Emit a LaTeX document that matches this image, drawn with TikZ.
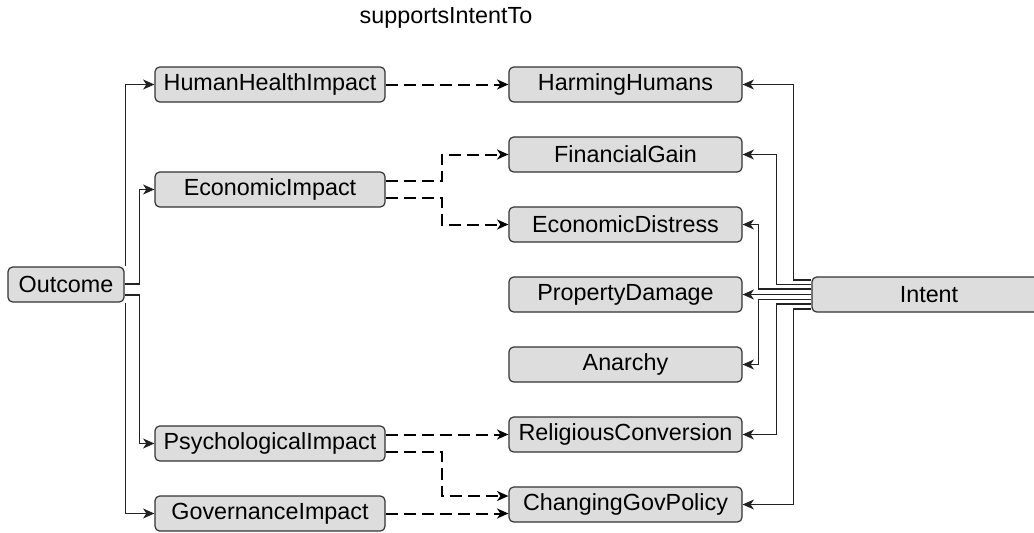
\documentclass[tikz,border=0pt]{standalone}
\usepackage{fontspec}
\setmainfont{Liberation Sans}
\usetikzlibrary{arrows.meta,calc}
\definecolor{boxfill}{HTML}{DDDDDD}
\definecolor{boxline}{HTML}{333333}
\definecolor{lineclr}{HTML}{222222}
\begin{document}
\begin{tikzpicture}[x=0.75pt,y=-0.75pt,
  box/.style={draw=boxline, fill=boxfill, rounded corners=3.5pt, line width=0.9pt,
    minimum height=26.25pt, inner sep=0pt, font=\fontsize{17.5}{20}\selectfont, text=black},
  lbox/.style={box, minimum width=172.5pt},
  rbox/.style={box, minimum width=174.75pt},
  tip/.style={-{Stealth[length=8.5pt,width=7.5pt,inset=2.5pt]}},
  conn/.style={tip, draw=lineclr, line width=0.8pt},
  dconn/.style={tip, draw=black, line width=1.5pt, dash pattern=on 9pt off 4.5pt}]
\clip (0,0) rectangle (1034,532);
\fill[white] (0,0) rectangle (1034,532);

\node[font=\fontsize{17.5}{20}\selectfont] (title) at (446,18) {supportsIntentTo};

\node[box, minimum width=87pt] (Outcome) at (66,284.5) {Outcome};

\node[lbox] (HH) at (270,84.5) {HumanHealthImpact};
\node[lbox] (EI) at (270,189.5) {EconomicImpact};
\node[lbox] (PI) at (270,443.5) {PsychologicalImpact};
\node[lbox] (GI) at (270,513.5) {GovernanceImpact};

\node[rbox] (HarmingHumans) at (625.5,84.5) {HarmingHumans};
\node[rbox] (FinancialGain) at (625.5,154.5) {FinancialGain};
\node[rbox] (EconomicDistress) at (625.5,224.5) {EconomicDistress};
\node[rbox] (PropertyDamage) at (625.5,294.5) {PropertyDamage};
\node[rbox] (Anarchy) at (625.5,364.5) {Anarchy};
\node[rbox] (ReligiousConversion) at (625.5,434.5) {ReligiousConversion};
\node[rbox] (ChangingGovPolicy) at (625.5,504.5) {ChangingGovPolicy};

\node[box, minimum width=175.5pt] (Intent) at (929,294.5) {Intent};

% Outcome connectors
\draw[conn] ($(Outcome.north east)+(1,0)$) |- (HH);
\draw[conn] ($(Outcome.east)+(0,-0.5)$) -- ++(15,0) |- (EI);
\draw[conn] ($(Outcome.east)+(0,10.5)$) -- ++(15,0) |- (PI);
\draw[conn] ($(Outcome.south east)+(1,0)$) |- (GI);

% dashed connectors
\draw[dconn] (HH) -- (HarmingHumans);
\draw[dconn] ($(EI.east)+(0,-8.5)$) -- ++(56,0) |- (FinancialGain);
\draw[dconn] ($(EI.east)+(0,8.5)$) -- ++(56,0) |- (EconomicDistress);
\draw[dconn] ($(PI.east)+(0,-9)$) -- (ReligiousConversion.west);
\draw[dconn] ($(PI.east)+(0,8.5)$) -- ++(56,0) |- ($(ChangingGovPolicy.west)+(0,-8.5)$);
\draw[dconn] (GI.east) -- ($(ChangingGovPolicy.west)+(0,9)$);

% Intent connectors
\draw[conn] ($(Intent.west)+(0,-14.5)$) -- ++(-18,0) |- (HarmingHumans);
\draw[conn] ($(Intent.west)+(0,-10)$) -- ++(-35,0) |- (FinancialGain);
\draw[conn] ($(Intent.west)+(0,-5.5)$) -- ++(-53,0) |- (EconomicDistress);
\draw[conn] (Intent.west) -- (PropertyDamage);
\draw[conn] ($(Intent.west)+(0,5)$) -- ++(-53,0) |- (Anarchy);
\draw[conn] ($(Intent.west)+(0,9.5)$) -- ++(-35,0) |- (ReligiousConversion);
\draw[conn] ($(Intent.west)+(0,14.5)$) -- ++(-18,0) |- (ChangingGovPolicy);
\end{tikzpicture}
\end{document}
